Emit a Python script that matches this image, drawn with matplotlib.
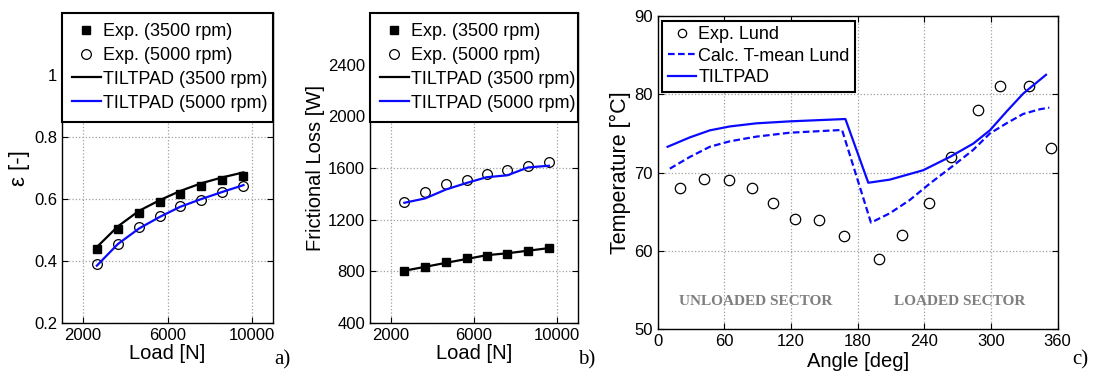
import matplotlib
matplotlib.use("Agg")
import matplotlib.pyplot as plt

plt.rcParams["font.family"] = ["Liberation Sans", "DejaVu Sans"]

# load cases, panels a) and b)
load = [2650, 3650, 4650, 5650, 6600, 7600, 8600, 9600]

# a) eccentricity
ecc_exp_3500 = [0.44, 0.504, 0.554, 0.591, 0.616, 0.641, 0.660, 0.676]
ecc_exp_5000 = [0.389, 0.456, 0.510, 0.545, 0.578, 0.597, 0.624, 0.643]
ecc_tp_3500 = [0.445, 0.512, 0.562, 0.597, 0.626, 0.651, 0.670, 0.686]
ecc_tp_5000 = [0.385, 0.455, 0.505, 0.543, 0.575, 0.600, 0.623, 0.645]

# b) frictional loss
loss_exp_3500 = [805, 836, 869, 900, 921, 938, 959, 980]
loss_exp_5000 = [1338, 1415, 1477, 1511, 1554, 1588, 1618, 1644]
loss_tp_3500 = [805, 835, 866, 896, 925, 940, 960, 980]
loss_tp_5000 = [1331, 1365, 1434, 1485, 1529, 1544, 1605, 1618]

# c) temperature vs angle
exp_angle = [20, 42, 64, 85, 104, 124, 145, 168, 199, 220, 244, 264, 288, 308, 334, 354]
exp_temp = [68.0, 69.15, 69.0, 68.0, 66.1, 64.1, 64.0, 61.9, 59.0, 62.0, 66.1, 72.0, 78.0, 81.1, 81.1, 73.1]

tp_angle = [9, 29, 47, 65, 89, 119, 169, 189.6, 209, 239, 263, 284, 299, 314, 329, 349.5]
tp_temp = [73.3, 74.5, 75.4, 75.9, 76.3, 76.55, 76.85, 68.7, 69.1, 70.3, 72.0, 73.7, 75.4, 77.8, 80.1, 82.5]

calc_angle = [11, 29, 47, 65, 89, 119, 166, 192, 209, 227, 245, 263, 284, 299, 314, 329, 344, 352.5]
calc_temp = [70.5, 72.0, 73.3, 74.0, 74.6, 75.1, 75.45, 63.6, 64.8, 66.5, 68.6, 70.55, 72.9, 75.0, 76.3, 77.5, 78.1, 78.3]

BLUE = "#0a0aff"


def style_axes(ax):
    ax.grid(True, linestyle=":", color="#a0a0a0", linewidth=0.9)
    ax.tick_params(direction="in", top=True, right=True, labelsize=12, length=4)
    for s in ax.spines.values():
        s.set_linewidth(1.0)


def matlab_legend(ax, labelspacing=0.25, borderpad=0.3, **kw):
    leg = ax.legend(fontsize=13, handlelength=1.6, handletextpad=0.1,
                    labelspacing=labelspacing, fancybox=False, framealpha=1,
                    edgecolor="black", borderpad=borderpad, **kw)
    leg.get_frame().set_linewidth(1.5)
    return leg


fig = plt.figure(figsize=(10.96, 3.76), dpi=100)

# ---- a)
ax_a = fig.add_axes([0.0566, 0.141, 0.1925, 0.824])
ax_a.plot(load, ecc_exp_3500, "s", color="black", ms=6, label="Exp. (3500 rpm)")
ax_a.plot(load, ecc_exp_5000, "o", mfc="none", mec="black", ms=7, mew=0.9, label="Exp. (5000 rpm)")
ax_a.plot(load, ecc_tp_3500, "-", color="black", lw=1.6, label="TILTPAD (3500 rpm)")
ax_a.plot(load, ecc_tp_5000, "-", color=BLUE, lw=1.6, label="TILTPAD (5000 rpm)")
ax_a.set_xlim(1000, 11000)
ax_a.set_ylim(0.2, 1.2)
ax_a.set_xticks([2000, 6000, 10000])
ax_a.set_yticks([0.2, 0.4, 0.6, 0.8, 1.0])
ax_a.set_yticklabels(["0.2", "0.4", "0.6", "0.8", "1"])
ax_a.set_xlabel("Load [N]", fontsize=14.5, labelpad=1)
ax_a.set_ylabel("ε [-]", fontsize=16, labelpad=3)
style_axes(ax_a)
matlab_legend(ax_a, labelspacing=0.38, borderpad=0.55, loc="upper left",
              bbox_to_anchor=(0, 0, 1, 1), mode="expand", borderaxespad=0)
fig.text(0.25, 0.03, "a)", fontsize=15, family="Liberation Serif")

# ---- b)
ax_b = fig.add_axes([0.3376, 0.141, 0.1898, 0.824])
ax_b.plot(load, loss_exp_3500, "s", color="black", ms=6, label="Exp. (3500 rpm)")
ax_b.plot(load, loss_exp_5000, "o", mfc="none", mec="black", ms=7, mew=0.9, label="Exp. (5000 rpm)")
ax_b.plot(load, loss_tp_3500, "-", color="black", lw=1.6, label="TILTPAD (3500 rpm)")
ax_b.plot(load, loss_tp_5000, "-", color=BLUE, lw=1.6, label="TILTPAD (5000 rpm)")
ax_b.set_xlim(1000, 11000)
ax_b.set_ylim(400, 2800)
ax_b.set_xticks([2000, 6000, 10000])
ax_b.set_yticks([400, 800, 1200, 1600, 2000, 2400])
ax_b.set_xlabel("Load [N]", fontsize=14.5, labelpad=1)
ax_b.set_ylabel("Frictional Loss [W]", fontsize=14.5, labelpad=2)
style_axes(ax_b)
matlab_legend(ax_b, labelspacing=0.38, borderpad=0.55, loc="upper left",
              bbox_to_anchor=(0, 0, 1, 1), mode="expand", borderaxespad=0)
fig.text(0.527, 0.03, "b)", fontsize=15, family="Liberation Serif")

# ---- c)
ax_c = fig.add_axes([0.600, 0.125, 0.365, 0.832])
ax_c.plot(exp_angle, exp_temp, "o", mfc="none", mec="black", ms=7.5, mew=0.9, label="Exp. Lund")
ax_c.plot(calc_angle, calc_temp, color=BLUE, lw=1.6, linestyle=(0, (3, 1.5)), label="Calc. T-mean Lund")
ax_c.plot(tp_angle, tp_temp, "-", color=BLUE, lw=1.6, label="TILTPAD")
ax_c.set_xlim(0, 360)
ax_c.set_ylim(50, 90)
ax_c.set_xticks([0, 60, 120, 180, 240, 300, 360])
ax_c.set_yticks([50, 60, 70, 80, 90])
ax_c.set_xlabel("Angle [deg]", fontsize=14.5, labelpad=2)
ax_c.set_ylabel("Temperature [°C]", fontsize=15.5, labelpad=2)
style_axes(ax_c)
leg_c = matlab_legend(ax_c, loc="upper left", borderaxespad=0.25)
for h in leg_c.legend_handles[:1]:
    h.set_markersize(6)
ax_c.text(88, 53.5, "UNLOADED SECTOR", ha="center", va="center", fontsize=11,
          fontweight="bold", color="#7f7f7f", family="Liberation Serif")
ax_c.text(272, 53.5, "LOADED SECTOR", ha="center", va="center", fontsize=11,
          fontweight="bold", color="#7f7f7f", family="Liberation Serif")
fig.text(0.978, 0.03, "c)", fontsize=15, family="Liberation Serif")

fig.savefig("out.png", dpi=100)
